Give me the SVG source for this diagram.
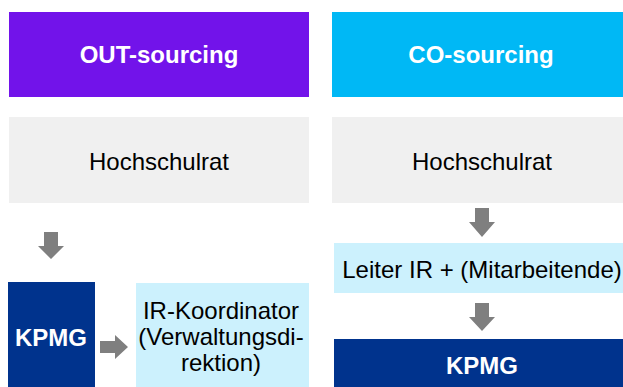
<svg xmlns="http://www.w3.org/2000/svg" width="623" height="387" viewBox="0 0 623 387">
<style>
text{font-family:"Liberation Sans",Arial,sans-serif;font-size:24px;text-anchor:middle}
.b{font-weight:bold;fill:#fff}
.n{fill:#000}
.arr{fill:#7f7f7f}
</style>
<rect width="623" height="387" fill="#fff"/>
<g id="out-header"><rect x="9" y="12" width="300" height="85" fill="#7213ea"/><text class="b" x="159" y="63">OUT-sourcing</text></g>
<g id="co-header"><rect x="332" y="12" width="298" height="85" fill="#00b8f5"/><text class="b" x="481" y="63">CO-sourcing</text></g>
<g id="out-hochschulrat"><rect x="9" y="117" width="300" height="86" fill="#f0f0f0"/><text class="n" x="159" y="170">Hochschulrat</text></g>
<g id="co-hochschulrat"><rect x="332" y="117" width="298" height="86" fill="#f0f0f0"/><text class="n" x="482" y="170">Hochschulrat</text></g>
<g id="out-kpmg"><rect x="8" y="282" width="87" height="105" fill="#00338d"/><text class="b" x="51" y="346">KPMG</text></g>
<g id="ir-koordinator"><rect x="136" y="283" width="173" height="104" fill="#ccf1fd"/><text class="n" x="221" y="319">IR-Koordinator</text><text class="n" x="221" y="345">(Verwaltungsdi-</text><text class="n" x="221" y="371">rektion)</text></g>
<g id="leiter-ir"><rect x="334" y="243" width="296" height="50" fill="#ccf1fd"/><text class="n" x="482" y="278">Leiter IR + (Mitarbeitende)</text></g>
<g id="co-kpmg"><rect x="334" y="339" width="296" height="48" fill="#00338d"/><text class="b" x="482" y="374">KPMG</text></g>
<g id="connectors">
<polygon class="arr" points="44,232 58,232 58,246 64,246 51,259 38,246 44,246"/>
<polygon class="arr" points="100,341 115,341 115,335 128,347 115,359 115,353 100,353"/>
<polygon class="arr" points="475,208 489,208 489,222 495,222 482,237 469,222 475,222"/>
<polygon class="arr" points="475,303 489,303 489,317 495,317 482,331 469,317 475,317"/>
</g>
</svg>
